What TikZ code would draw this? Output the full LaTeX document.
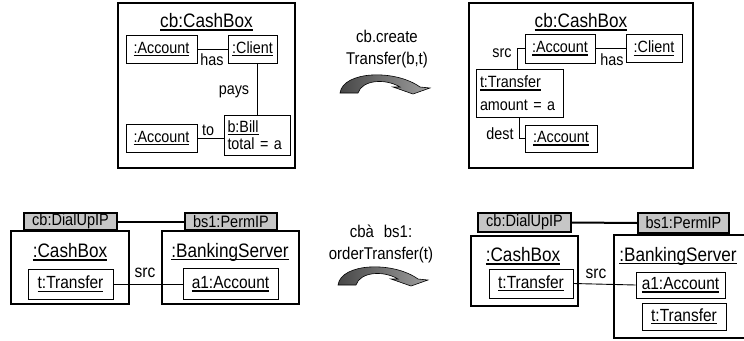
\documentclass[tikz,border=0pt]{standalone}
\usepackage{fontspec}
\setmainfont{Liberation Sans}[FakeStretch=0.88]
\newcommand\uln[1]{\setbox0\hbox{#1}\rlap{\vrule width\wd0 height -1.7pt depth 3.1pt}\box0}
\newcommand\fTitle{\fontsize{19.5}{22}\selectfont}
\newcommand\fTop{\fontsize{16.3}{17.5}\selectfont}
\newcommand\fBot{\fontsize{17.6}{20}\selectfont}
\newcommand\fGray{\fontsize{16.5}{18}\selectfont}
\newcommand\fArr{\fontsize{17}{22}\selectfont}
\tikzset{
  frame/.style={draw, line width=2.2pt, inner sep=0pt, minimum width=#1},
  objbox/.style={draw, line width=0.9pt, inner sep=0pt},
  ipbox/.style={draw, line width=2pt, fill=gray!45, inner sep=0pt, font=\fGray},
  lbl/.style={inner sep=0pt},
  conn/.style={line width=0.9pt},
  ipconn/.style={line width=2pt},
  curvarr/.pic={
    \shade[left color=black!72, right color=black!38, draw=black, line width=0.6pt]
      (0,0) .. controls (3,-22) and (55,-24) .. (80,-6)
      -- (90,-5) -- (73,1) -- (53,-6) -- (60,-6)
      .. controls (45,-15) and (22,-13) .. (18,0) -- cycle;
  }
}
\begin{document}
\begin{tikzpicture}[x=1pt,y=-1pt]
\useasboundingbox (0,0) rectangle (744,340);
\clip (0,0) rectangle (744,340);

% ---------- top left ----------
\node[frame=177, minimum height=165] (frameA) at (206.5,85.5) {};
\node[lbl, font=\fTitle] (titleA) at (206.5,22) {\uln{cb:CashBox}};
\node[objbox, font=\fTop, minimum width=71, minimum height=28] (accA1) at (161.5,49) {\uln{:Account}};
\node[objbox, font=\fTop, minimum width=49, minimum height=28] (cliA) at (252.5,49) {\uln{:Client}};
\node[objbox, font=\fTop, minimum width=71, minimum height=28] (accA2) at (161.5,138) {\uln{:Account}};
\node[objbox, font=\fTop, minimum width=66, minimum height=40, align=left, text width=59] (billA) at (257,135) {\fTop\uln{b:Bill}\\ total = a};
\draw[conn] (accA1.east) -- (cliA.west);
\draw[conn] (billA.north |- cliA.south) -- (billA.north);
\draw[conn] (accA2.east) -- (accA2.east -| billA.west);
\node[lbl, font=\fTop] (hasA) at (212,60) {has};
\node[lbl, font=\fTop] (paysA) at (234,92) {pays};
\node[lbl, font=\fTop] (toA) at (208,130) {to};

% ---------- top middle ----------
\node[lbl, font=\fArr, align=center] (opA) at (387,49) {cb.create\\Transfer(b,t)};
\pic at (340,93) {curvarr};

% ---------- top right ----------
\node[frame=224, minimum height=165] (frameB) at (581,85.5) {};
\node[lbl, font=\fTitle] (titleB) at (581,22) {\uln{cb:CashBox}};
\node[objbox, font=\fTop, minimum width=70, minimum height=29] (accB1) at (560,48.5) {\uln{:Account}};
\node[objbox, font=\fTop, minimum width=56, minimum height=28] (cliB) at (654,48.5) {\uln{:Client}};
\node[objbox, font=\fTop, minimum width=87, minimum height=48, align=left, text width=79] (trB) at (519.5,93) {\fTop\uln{t:Transfer}\\[5pt] amount = a};
\node[objbox, font=\fTop, minimum width=72, minimum height=27] (accB2) at (561,138.5) {\uln{:Account}};
\draw[conn] (accB1.east) -- (cliB.west);
\draw[conn] (accB1.west) -| ([xshift=-2pt]trB.north);
\draw[conn] (trB.south) |- (accB2.west);
\node[lbl, font=\fTop] (hasB) at (612,60) {has};
\node[lbl, font=\fTop] (srcB) at (502,53) {src};
\node[lbl, font=\fTop] (destB) at (500,134) {dest};

% ---------- bottom left ----------
\node[frame=118, minimum height=73] (cbL) at (70,267.5) {};
\node[ipbox, minimum width=93, minimum height=17] (ipL1) at (70.5,221.5) {cb:DialUpIP};
\node[lbl, font=\fTitle] (tcbL) at (70,252) {\uln{:CashBox}};
\node[objbox, font=\fBot, minimum width=85, minimum height=30] (trL) at (70.5,284) {\uln{t:Transfer}};
\node[frame=137, minimum height=73] (bsL) at (230.5,267.5) {};
\node[ipbox, minimum width=92, minimum height=17] (ipL2) at (231,221.5) {bs1:PermIP};
\node[lbl, font=\fTitle] (tbsL) at (230,252) {\uln{:BankingServer}};
\node[objbox, font=\fBot, minimum width=95, minimum height=31] (accL) at (230.5,284) {\uln{a1:Account}};
\draw[ipconn] (ipL1.east) -- (ipL2.west);
\draw[conn] (trL.east) -- (accL.west);
\node[lbl, font=\fBot] (srcL) at (145,273) {src};

% ---------- bottom middle ----------
\node[lbl, font=\fArr, align=center] (opB) at (381,244) {cbà\hspace{10pt}bs1:\\orderTransfer(t)};
\pic at (338,285) {curvarr};

% ---------- bottom right ----------
\node[frame=107, minimum height=70] (cbR) at (524.5,271) {};
\node[ipbox, minimum width=93, minimum height=19] (ipR1) at (524.5,222.5) {cb:DialUpIP};
\node[lbl, font=\fTitle] (tcbR) at (523,256) {\uln{:CashBox}};
\node[objbox, font=\fBot, minimum width=84, minimum height=29] (trR) at (531,283.5) {\uln{t:Transfer}};
\node[frame=150, minimum height=103] (bsR) at (689,286.5) {};
\node[ipbox, minimum width=91, minimum height=20] (ipR2) at (683.5,223) {bs1:PermIP};
\node[lbl, font=\fTitle] (tbsR) at (678,256) {\uln{:BankingServer}};
\node[objbox, font=\fBot, minimum width=89, minimum height=26] (accR) at (680.5,285) {\uln{a1:Account}};
\node[objbox, font=\fBot, minimum width=84, minimum height=27] (trR2) at (684,316.5) {\uln{t:Transfer}};
\draw[ipconn] (ipR1.east) -- (ipR2.west);
\draw[conn] (trR.east) -- (accR.west);
\node[lbl, font=\fBot] (srcR) at (596,274) {src};
\end{tikzpicture}
\end{document}
